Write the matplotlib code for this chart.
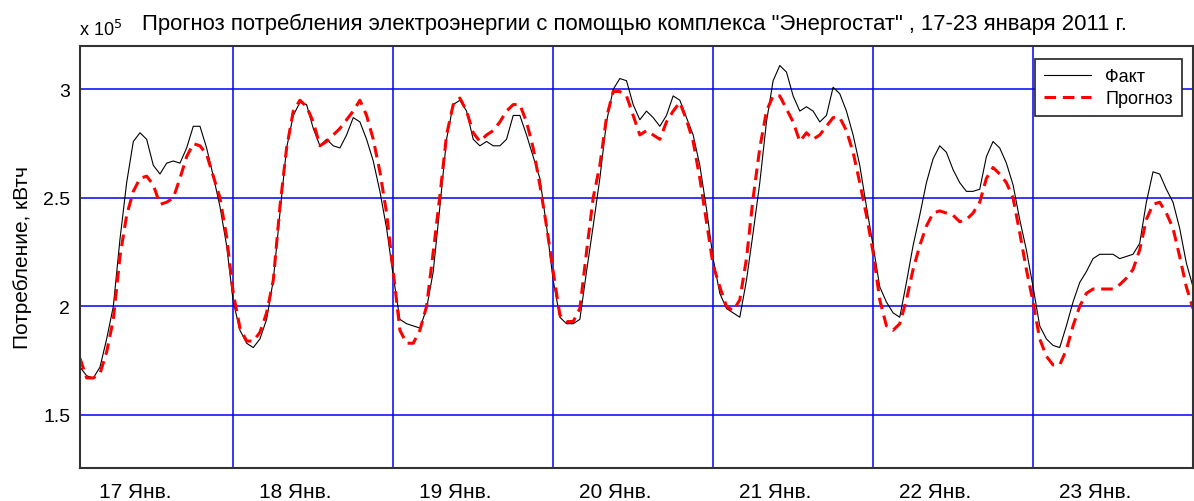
import numpy as np
import matplotlib
matplotlib.use("Agg")
import matplotlib.pyplot as plt

# hourly values, x 10^5 kWh, 17-23 Jan 2011 (hours 1..168)
hours = np.arange(1, 169)

fact = [
    1.72, 1.68, 1.67, 1.72, 1.85, 2.00, 2.31, 2.57, 2.76, 2.80, 2.77, 2.65,
    2.61, 2.66, 2.67, 2.66, 2.73, 2.83, 2.83, 2.73, 2.60, 2.46, 2.28, 2.02,
    1.89, 1.83, 1.81, 1.85, 1.94, 2.12, 2.43, 2.73, 2.88, 2.94, 2.93, 2.82,
    2.74, 2.77, 2.74, 2.73, 2.79, 2.87, 2.85, 2.77, 2.67, 2.53, 2.36, 2.14,
    1.94, 1.92, 1.91, 1.90, 1.99, 2.16, 2.46, 2.77, 2.93, 2.95, 2.90, 2.77,
    2.74, 2.76, 2.74, 2.74, 2.77, 2.88, 2.88, 2.79, 2.69, 2.59, 2.37, 2.12,
    1.95, 1.92, 1.92, 1.94, 2.16, 2.37, 2.59, 2.85, 3.00, 3.05, 3.04, 2.93,
    2.86, 2.90, 2.87, 2.83, 2.88, 2.97, 2.95, 2.87, 2.79, 2.65, 2.45, 2.22,
    2.06, 1.99, 1.97, 1.95, 2.12, 2.34, 2.57, 2.85, 3.04, 3.11, 3.08, 2.97,
    2.90, 2.92, 2.90, 2.85, 2.88, 3.01, 2.98, 2.90, 2.79, 2.65, 2.46, 2.28,
    2.09, 2.02, 1.97, 1.95, 2.11, 2.28, 2.42, 2.57, 2.68, 2.74, 2.71, 2.63,
    2.57, 2.53, 2.53, 2.54, 2.69, 2.76, 2.73, 2.66, 2.56, 2.40, 2.26, 2.09,
    1.91, 1.85, 1.82, 1.81, 1.91, 2.02, 2.11, 2.16, 2.22, 2.24, 2.24, 2.24,
    2.22, 2.23, 2.24, 2.29, 2.48, 2.62, 2.61, 2.54, 2.48, 2.36, 2.20, 2.09,
]

forecast = [
    1.76, 1.67, 1.67, 1.69, 1.79, 1.94, 2.23, 2.42, 2.53, 2.59, 2.60, 2.56,
    2.47, 2.48, 2.50, 2.59, 2.69, 2.75, 2.74, 2.70, 2.60, 2.50, 2.32, 2.06,
    1.90, 1.84, 1.84, 1.88, 1.97, 2.12, 2.46, 2.73, 2.90, 2.95, 2.92, 2.85,
    2.74, 2.76, 2.79, 2.82, 2.86, 2.90, 2.95, 2.88, 2.77, 2.62, 2.43, 2.16,
    1.89, 1.83, 1.83, 1.89, 2.00, 2.25, 2.51, 2.79, 2.93, 2.96, 2.90, 2.80,
    2.76, 2.79, 2.81, 2.85, 2.90, 2.93, 2.93, 2.85, 2.73, 2.56, 2.37, 2.16,
    1.96, 1.93, 1.93, 1.99, 2.25, 2.50, 2.65, 2.87, 2.99, 2.99, 2.97, 2.88,
    2.79, 2.81, 2.79, 2.77, 2.85, 2.90, 2.94, 2.86, 2.76, 2.59, 2.39, 2.19,
    2.09, 2.00, 1.98, 2.03, 2.22, 2.50, 2.73, 2.90, 2.97, 2.97, 2.91, 2.85,
    2.76, 2.80, 2.77, 2.79, 2.83, 2.87, 2.87, 2.81, 2.71, 2.57, 2.42, 2.25,
    2.03, 1.91, 1.89, 1.92, 2.03, 2.17, 2.28, 2.37, 2.43, 2.44, 2.43, 2.42,
    2.39, 2.40, 2.43, 2.48, 2.59, 2.64, 2.61, 2.57, 2.50, 2.34, 2.17, 2.02,
    1.85, 1.77, 1.73, 1.73, 1.80, 1.91, 2.00, 2.06, 2.08, 2.08, 2.08, 2.08,
    2.10, 2.13, 2.17, 2.26, 2.40, 2.47, 2.48, 2.43, 2.36, 2.23, 2.09, 1.99,
]

day_labels = ["17 Янв.", "18 Янв.", "19 Янв.", "20 Янв.", "21 Янв.", "22 Янв.", "23 Янв."]
y_ticks = [1.5, 2, 2.5, 3]

plt.rcParams['font.family'] = ['Liberation Sans', 'DejaVu Sans']

fig = plt.figure(figsize=(11.94, 5.02), dpi=100)
ax = fig.add_axes([80/1194, 33/502, 1113/1194, 422/502])

ax.plot(hours, fact, color='black', lw=0.8, label='Факт')
ax.plot(hours, forecast, color='red', lw=2.2, ls=(0, (3.8, 2.2)), label='Прогноз')

ax.set_xlim(1, 168)
ax.set_ylim(1.255, 3.2)

# grid at day boundaries, labels inside each day
ax.set_xticks(np.arange(24, 168, 24))
ax.set_xticklabels([])
ax.set_xticks(np.arange(7) * 24 + 9.3, minor=True)
ax.set_xticklabels(day_labels, minor=True, fontsize=15)
ax.set_yticks(y_ticks)
ax.set_yticklabels(["1.5", "2", "2.5", "3"], fontsize=14)
ax.tick_params(axis='both', which='both', length=0)
ax.tick_params(axis='x', which='minor', pad=10)
ax.tick_params(axis='y', pad=7)
ax.grid(True, which='major', color='#0000ff', lw=1.1)
ax.set_axisbelow(True)

for s in ax.spines.values():
    s.set_color('#333333')
    s.set_linewidth(1.5)

ax.set_ylabel("Потребление, кВтч", fontsize=15, labelpad=8)

fig.text(79/1194, 1 - 36/502, r"x 10$^{5}$", fontsize=13, va='baseline')
fig.text(634/1194, 1 - 30/502,
         'Прогноз потребления электроэнергии с помощью комплекса "Энергостат" , 17-23 января 2011 г.',
         fontsize=15.9, ha='center', va='baseline')

leg = ax.legend(loc='upper right', bbox_to_anchor=(1182/1194, 1 - 60/502),
                bbox_transform=fig.transFigure, fontsize=13, frameon=True, fancybox=False,
                handlelength=2.6, borderpad=0.5, labelspacing=0.3, borderaxespad=0)
leg.get_frame().set_edgecolor('#222222')
leg.get_frame().set_linewidth(1.2)
leg.get_frame().set_alpha(1)

fig.savefig("out.png", dpi=100)
